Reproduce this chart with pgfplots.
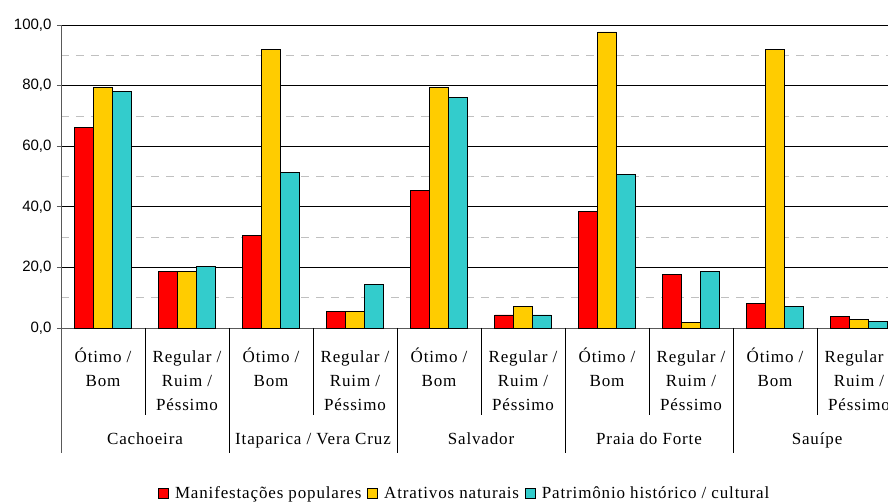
\documentclass[border=0pt]{standalone}
\usepackage{fontspec}
\setmainfont{Liberation Serif}
\newfontfamily\arial{Liberation Sans}
\newfontfamily\lab[LetterSpace=5]{Liberation Serif}
\usepackage{pgfplots}
\pgfplotsset{compat=1.18}
\definecolor{cred}{RGB}{255,0,0}
\definecolor{cyel}{RGB}{255,204,0}
\definecolor{ccyan}{RGB}{51,204,204}
\definecolor{dgrid}{RGB}{192,192,192}
\begin{document}
\begin{tikzpicture}
\begin{axis}[
  scale only axis, width=827pt, height=303pt,
  xmin=-0.5, xmax=9.345, ymin=0, ymax=100,
  clip=false,
  ybar=0.6pt, bar width=18.4pt,
  axis x line*=bottom, axis y line*=left,
  axis line style={draw=gray!70!black, line width=0.8pt},
  ytick={0,20,40,60,80,100}, minor ytick={10,30,50,70,90},
  ymajorgrids, yminorgrids,
  major grid style={black, line width=0.7pt},
  minor grid style={dgrid, dash pattern=on 8pt off 7pt, line width=0.7pt},
  tick align=outside, major tick length=4pt, minor tick length=0pt,
  ytick style={gray!70!black, line width=0.8pt},
  yticklabel style={font=\arial\fontsize{15}{15}\selectfont, xshift=-2pt},
  /pgf/number format/.cd, fixed, fixed zerofill, precision=1, use comma, assume math mode=true,
  /pgfplots/.cd,
  xtick={0,1,2,3,4,5,6,7,8,9}, xtick style={draw=none},
  xticklabels={
    \strut Ótimo /\\Bom,
    \strut Regular /\\Ruim /\\Péssimo,
    \strut Ótimo /\\Bom,
    \strut Regular /\\Ruim /\\Péssimo,
    \strut Ótimo /\\Bom,
    \strut Regular /\\Ruim /\\Péssimo,
    \strut Ótimo /\\Bom,
    \strut Regular /\\Ruim /\\Péssimo,
    \strut Ótimo /\\Bom,
    \strut Regular /\\Ruim /\\Péssimo},
  xticklabel style={anchor=north, align=center, inner sep=0pt, yshift=-14pt,
    font=\lab\fontsize{17}{24}\selectfont},
  legend style={at={(0.487,-0.547)}, anchor=center, draw=none,
    font=\lab\fontsize{17}{17}\selectfont,
    nodes={inner sep=0pt},
    /tikz/every odd column/.append style={column sep=6pt},
    /tikz/every even column/.append style={column sep=6pt}},
  legend columns=3,
  legend image code/.code={\draw[#1, draw=black, line width=0.8pt] (0pt,-5pt) rectangle (10pt,5pt);},
]
\addplot[fill=cred, draw=black, line width=0.9pt] coordinates
  {(0,66.3) (1,18.8) (2,30.5) (3,5.5) (4,45.4) (5,4.3) (6,38.4) (7,17.7) (8,8.0) (9,3.8)};
\addplot[fill=cyel, draw=black, line width=0.9pt] coordinates
  {(0,79.5) (1,18.8) (2,91.9) (3,5.5) (4,79.5) (5,7.0) (6,97.7) (7,1.8) (8,91.9) (9,2.8)};
\addplot[fill=ccyan, draw=black, line width=0.9pt] coordinates
  {(0,78.0) (1,20.3) (2,51.3) (3,14.5) (4,76.0) (5,4.3) (6,50.8) (7,18.8) (8,7.0) (9,2.2)};
\legend{Manifestações populares, Atrativos naturais, Patrimônio histórico / cultural}
% separators
\draw[black, line width=0.8pt] (axis cs:0.5,0) -- ++(0pt,-87pt);
\draw[black, line width=0.8pt] (axis cs:2.5,0) -- ++(0pt,-87pt);
\draw[black, line width=0.8pt] (axis cs:4.5,0) -- ++(0pt,-87pt);
\draw[black, line width=0.8pt] (axis cs:6.5,0) -- ++(0pt,-87pt);
\draw[black, line width=0.8pt] (axis cs:8.5,0) -- ++(0pt,-87pt);
\draw[gray!70!black, line width=0.8pt] (axis cs:-0.5,0) -- ++(0pt,-125pt);
\draw[black, line width=0.8pt] (axis cs:1.5,0) -- ++(0pt,-125pt);
\draw[black, line width=0.8pt] (axis cs:3.5,0) -- ++(0pt,-125pt);
\draw[black, line width=0.8pt] (axis cs:5.5,0) -- ++(0pt,-125pt);
\draw[black, line width=0.8pt] (axis cs:7.5,0) -- ++(0pt,-125pt);
% group labels
\node[anchor=base, font=\lab\fontsize{17}{24}\selectfont] at ([yshift=-117pt]axis cs:0.5,0) {Cachoeira};
\node[anchor=base, font=\lab\fontsize{17}{24}\selectfont] at ([yshift=-117pt]axis cs:2.5,0) {Itaparica / Vera Cruz};
\node[anchor=base, font=\lab\fontsize{17}{24}\selectfont] at ([yshift=-117pt]axis cs:4.5,0) {Salvador};
\node[anchor=base, font=\lab\fontsize{17}{24}\selectfont] at ([yshift=-117pt]axis cs:6.5,0) {Praia do Forte};
\node[anchor=base, font=\lab\fontsize{17}{24}\selectfont] at ([yshift=-117pt]axis cs:8.5,0) {Sauípe};
\end{axis}
\pgfresetboundingbox
\path (-61pt,-174pt) rectangle (827pt,328pt);
\end{tikzpicture}
\end{document}
